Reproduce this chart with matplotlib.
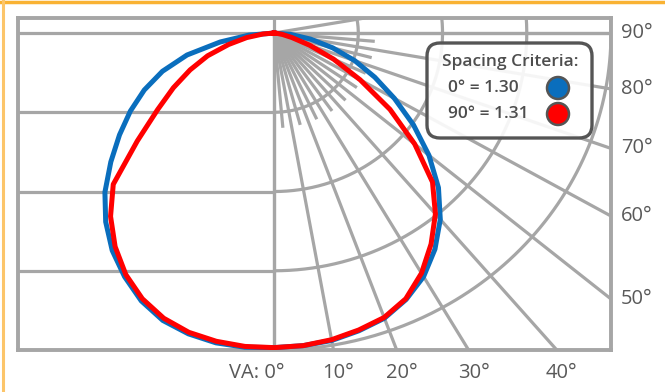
import numpy as np
import matplotlib.pyplot as plt
import matplotlib.transforms as mtransforms
from matplotlib.patches import FancyBboxPatch, Circle
from matplotlib.lines import Line2D

plt.rcParams['font.family'] = ['Open Sans', 'DejaVu Sans']

# vertical angle (deg) and relative intensity in ring units
va = [0, 5, 10, 15, 20, 25, 30, 35, 40, 45, 50, 55, 60, 65, 70, 75, 80, 85, 90]
blue_right = [3.97, 3.96, 3.94, 3.89, 3.83, 3.71, 3.55, 3.33, 3.07, 2.76,
              2.40, 2.02, 1.65, 1.32, 1.02, 0.72, 0.44, 0.20, 0.0]
blue_left = [3.97, 3.98, 3.97, 3.93, 3.86, 3.73, 3.55, 3.35, 3.11, 2.84,
             2.53, 2.24, 1.97, 1.70, 1.41, 1.07, 0.65, 0.30, 0.0]
red_right = [3.97, 3.96, 3.93, 3.88, 3.82, 3.70, 3.50, 3.25, 2.98, 2.66,
             2.18, 1.68, 1.18, 0.78, 0.45, 0.22, 0.10, 0.03, 0.0]
red_left = [3.97, 3.97, 3.95, 3.91, 3.83, 3.70, 3.52, 3.29, 3.02, 2.70,
            2.12, 1.69, 1.38, 1.10, 0.84, 0.56, 0.33, 0.13, 0.0]

rings = [1, 2, 3, 4]
major_spokes = [0, 10, 20, 30, 40, 50, 60, 70, 80, 90, 100]
minor_spokes = [5, 15, 25, 35, 45, 55, 65, 75, 85]
bottom_labels = [0, 10, 20, 30, 40]
side_labels = [50, 60, 70, 80, 90]
criteria = ['0° = 1.30', '90° = 1.31']
colors = ['#0a6ebd', '#ff0000']

W, H = 665, 392
fig = plt.figure(figsize=(W / 100, H / 100), dpi=100)
ax = fig.add_axes([18 / W, 1 - 350 / H, 593 / W, 332 / H])
ax.set_xlim(-3.04, 4.0)
ax.set_ylim(-4.0, 0.19)
ax.set_xticks([])
ax.set_yticks([])
for s in ax.spines.values():
    s.set_color('#a6a6a6')
    s.set_linewidth(2.8)

grid = dict(color='#a6a6a6', lw=2.3, solid_capstyle='butt', zorder=1)

# left side: plain horizontal lines
ax.plot([-3.04, 4.0], [0, 0], **grid)
for r in rings[:-1]:
    ax.plot([-3.04, 0], [-r, -r], **grid)
ax.plot([0, 0], [-4.0, 0.19], **grid)

# right side: rings and spokes around the source
t = np.radians(np.linspace(0, 130, 300))
for r in rings:
    ax.plot(r * np.sin(t), -r * np.cos(t), **grid)
for a in major_spokes:
    th = np.radians(a)
    ax.plot([0, 8 * np.sin(th)], [0, -8 * np.cos(th)], **grid)
for a in minor_spokes:
    th = np.radians(a)
    ax.plot([0, 1.2 * np.sin(th)], [0, -1.2 * np.cos(th)], **grid)

# candela curves
th = np.radians(va)
for rl, rr, c in [(blue_left, blue_right, colors[0]), (red_left, red_right, colors[1])]:
    rl = np.array(rl)
    rr = np.array(rr)
    x = np.concatenate([-(rl * np.sin(th))[::-1], (rr * np.sin(th))[1:]])
    y = np.concatenate([(-rl * np.cos(th))[::-1], (-rr * np.cos(th))[1:]])
    ax.plot(x, y, color=c, lw=3.6, solid_joinstyle='round', zorder=3)

# angle labels
lab = dict(fontsize=14.5, color='#595959', va='center')
for a in side_labels:
    yv = -4.0 / np.tan(np.radians(a))
    ax.annotate(f'{a}°', xy=(1.0, yv), xycoords=('axes fraction', 'data'),
                xytext=(10, 0), textcoords='offset pixels', ha='left', **lab)
for a in bottom_labels:
    xv = 4.0 * np.tan(np.radians(a))
    if a == 0:
        ax.annotate('VA: 0°', xy=(xv, 0), xycoords=('data', 'axes fraction'),
                    xytext=(10, -23), textcoords='offset pixels', ha='right', **lab)
    else:
        ax.annotate(f'{a}°', xy=(xv, 0), xycoords=('data', 'axes fraction'),
                    xytext=(5, -23), textcoords='offset pixels', ha='center', **lab)

# spacing criteria box, in pixel units from the top-left corner
pxt = mtransforms.Affine2D().scale(1 / W, -1 / H).translate(0, 1) + fig.transFigure
box = FancyBboxPatch((427, 43), 165, 95, boxstyle='round,pad=0,rounding_size=13',
                     transform=pxt, facecolor=(1, 1, 1, 0.9),
                     edgecolor='#555555', lw=2.4, zorder=5)
fig.patches.append(box)
fig.text(510, 62, 'Spacing Criteria:', transform=pxt, ha='center', va='center',
         fontsize=12.5, color='#4d4d4d', fontweight='semibold', zorder=6)
for i, (txt, c) in enumerate(zip(criteria, colors)):
    yy = 88 + 26 * i
    fig.text(448, yy, txt, transform=pxt, ha='left', va='center',
             fontsize=12.5, color='#4d4d4d', fontweight='semibold', zorder=6)
    fig.patches.append(Circle((558, yy), 11, transform=pxt, facecolor=c,
                              edgecolor='#555555', lw=1.8, zorder=6))

# orange frame of the page
fig.add_artist(Line2D([0, 1], [1 - 1.5 / H, 1 - 1.5 / H], color='#f9b233', lw=2.5))
fig.add_artist(Line2D([2.5 / W, 2.5 / W], [0, 1], color='#fcc56a', lw=2.2))

fig.savefig('out.png', dpi=100)
